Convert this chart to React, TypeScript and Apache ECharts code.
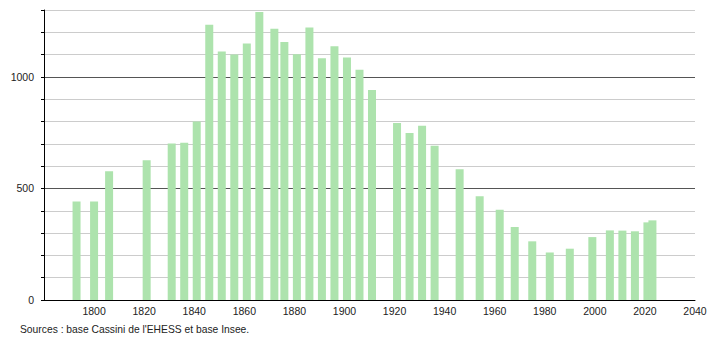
import React, { useEffect, useRef } from "react";
import * as echarts from "echarts";

const years = [1793, 1800, 1806, 1821, 1831, 1836, 1841, 1846, 1851, 1856, 1861, 1866, 1872, 1876, 1881, 1886, 1891, 1896, 1901, 1906, 1911, 1921, 1926, 1931, 1936, 1946, 1954, 1962, 1968, 1975, 1982, 1990, 1999, 2006, 2011, 2016, 2021, 2023];
const population = [441, 441, 577, 626, 702, 705, 800, 1234, 1114, 1100, 1150, 1291, 1216, 1156, 1102, 1221, 1084, 1137, 1087, 1032, 941, 793, 749, 781, 691, 586, 465, 405, 327, 263, 213, 230, 282, 312, 311, 308, 348, 357];
const yLabelValues = [0, 500, 1000];
const sourceText = "Sources : base Cassini de l'EHESS et base Insee.";

export default function App() {
  const ref = useRef<HTMLDivElement>(null);
  useEffect(() => {
    if (!ref.current) return;
    const chart = echarts.init(ref.current, undefined, { renderer: "svg" });
    const font = "'Liberation Sans', Arial, sans-serif";
    chart.setOption({
      animation: false,
      backgroundColor: "#ffffff",
      grid: { left: 44, right: 15, top: 10, bottom: 40, containLabel: false },
      xAxis: {
        type: "value",
        min: 1780,
        max: 2040,
        interval: 20,
        axisLine: { show: true, lineStyle: { color: "#000", width: 1 } },
        axisTick: { show: false },
        splitLine: { show: false },
        axisLabel: {
          showMinLabel: false,
          margin: 5,
          color: "#222",
          fontSize: 10.5,
          fontFamily: font,
          formatter: (v: number) => String(v),
        },
      },
      yAxis: {
        type: "value",
        min: 0,
        max: 1300,
        interval: 100,
        axisLine: { show: true, lineStyle: { color: "#000", width: 1 } },
        axisTick: { show: true, length: 3, lineStyle: { color: "#000" } },
        splitLine: {
          show: true,
          lineStyle: { color: ["#555555", "#cccccc", "#cccccc", "#cccccc", "#cccccc"], width: 1 },
        },
        axisLabel: {
          margin: 10,
          color: "#222",
          fontSize: 10.5,
          fontFamily: font,
          formatter: (v: number) => (yLabelValues.includes(v) ? String(v) : ""),
        },
      },
      series: [
        {
          type: "bar",
          data: years.map((y, i) => [y, population[i]]),
          barWidth: 8,
          itemStyle: { color: "#ade3ad" },
          silent: true,
        },
      ],
      graphic: [
        {
          type: "text",
          left: 20,
          top: 324,
          style: { text: sourceText, fontSize: 10.3, fontFamily: font, fill: "#222" },
        },
      ],
    });
    return () => chart.dispose();
  }, []);
  return (
    <div
      ref={ref}
      style={{ position: "fixed", left: 0, top: 0, width: 710, height: 340 }}
    />
  );
}
